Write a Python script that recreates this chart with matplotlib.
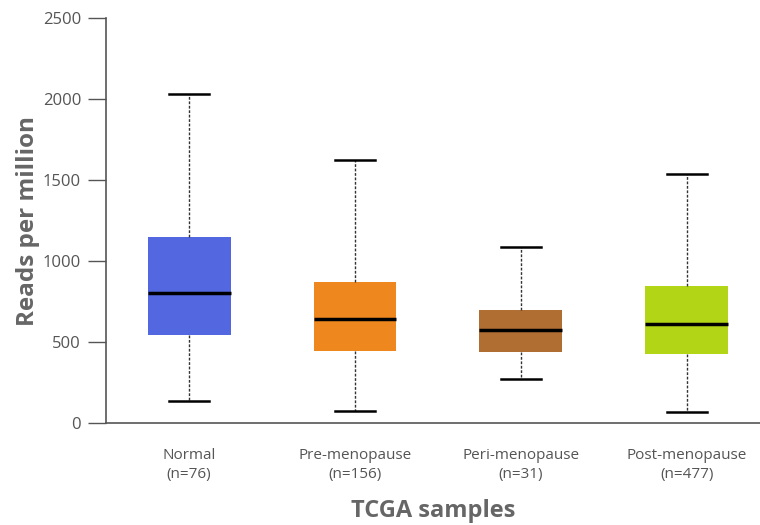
import matplotlib.pyplot as plt

# Box statistics (reads per million) for each sample group
groups = ["Normal\n(n=76)", "Pre-menopause\n(n=156)", "Peri-menopause\n(n=31)", "Post-menopause\n(n=477)"]
whisker_low = [134, 76, 272, 68]
q1 = [542, 446, 436, 428]
median = [805, 642, 576, 609]
q3 = [1148, 870, 699, 846]
whisker_high = [2031, 1623, 1084, 1537]
colors = ["#5267e0", "#ee881e", "#b06e32", "#b2d616"]

plt.rcParams['font.family'] = ['Open Sans', 'DejaVu Sans']

fig = plt.figure(figsize=(7.6, 5.25), dpi=100)
ax = fig.add_axes([0.1395, 0.194, 0.8605, 0.7717])

stats = []
for i in range(len(groups)):
    stats.append({
        'whislo': whisker_low[i], 'q1': q1[i], 'med': median[i],
        'q3': q3[i], 'whishi': whisker_high[i], 'fliers': [], 'label': groups[i],
    })

bp = ax.bxp(stats, positions=[1, 2, 3, 4], widths=0.5, patch_artist=True,
            showfliers=False,
            boxprops=dict(linewidth=0),
            medianprops=dict(color='black', linewidth=2.5),
            whiskerprops=dict(color='#333333', linewidth=1.0, linestyle=(0, (2, 1.2))),
            capprops=dict(color='black', linewidth=1.8),
            capwidths=0.24)
for patch, c in zip(bp['boxes'], colors):
    patch.set_facecolor(c)

ax.set_xlim(0.5, 4.44)
ax.set_ylim(0, 2500)
ax.set_yticks([0, 500, 1000, 1500, 2000, 2500])

for side in ['top', 'right']:
    ax.spines[side].set_visible(False)
for side in ['left', 'bottom']:
    ax.spines[side].set_color('#555555')
    ax.spines[side].set_linewidth(1.2)

ax.tick_params(axis='y', length=13, width=1.0, color='#555555', labelcolor='#555555', labelsize=12, pad=5)
ax.tick_params(axis='x', length=0, labelcolor='#555555', labelsize=11, pad=18)
for lbl in ax.get_xticklabels():
    lbl.set_linespacing(1.35)

ax.set_ylabel('Reads per million', fontsize=17.5, fontweight='bold', color='#666666', labelpad=2)
ax.set_xlabel('TCGA samples', fontsize=17, fontweight='bold', color='#666666', labelpad=12)

fig.savefig('out.png', dpi=100)
